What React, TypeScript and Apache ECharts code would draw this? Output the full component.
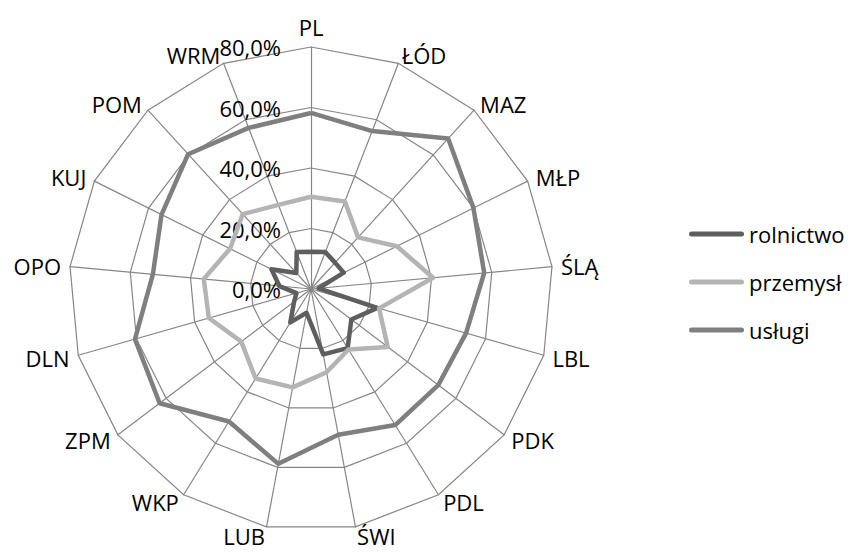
import React, { useEffect, useRef } from 'react';
import * as echarts from 'echarts';

// Categories listed clockwise from the top, as in the reference
const categories = ['PL', 'ŁÓD', 'MAZ', 'MŁP', 'ŚLĄ', 'LBL', 'PDK', 'PDL', 'ŚWI', 'LUB', 'WKP', 'ZPM', 'DLN', 'OPO', 'KUJ', 'POM', 'WRM'];
const seriesNames = ['rolnictwo', 'przemysł', 'usługi'];
const rolnictwo = [12.3, 13.1, 11.8, 12.1, 2.5, 22.8, 16.7, 23.0, 22.0, 8.0, 13.0, 7.0, 5.0, 10.5, 14.6, 7.2, 13.1];
const przemysl = [30.5, 31.0, 23.1, 31.7, 40.5, 23.4, 31.8, 23.5, 28.0, 33.1, 34.8, 28.9, 35.1, 35.6, 29.9, 33.5, 29.8];
const uslugi = [58.2, 56.0, 67.3, 60.0, 57.5, 53.3, 52.7, 52.9, 49.0, 58.8, 51.5, 62.7, 60.5, 52.5, 55.2, 60.3, 57.1];
const axisMin = 0;
const axisMax = 80;
const splitCount = 4;

const FONT = '"Open Sans", "Noto Sans", sans-serif';
const COLORS = ['#5e5e5e', '#b4b4b4', '#7f7f7f'];

export default function App() {
  const ref = useRef<HTMLDivElement>(null);
  useEffect(() => {
    const chart = echarts.init(ref.current!, null, { renderer: 'svg' });
    const n = categories.length;
    // ECharts places indicators counter-clockwise; reverse (keeping the first) to go clockwise
    const order = [0, ...Array.from({ length: n - 1 }, (_, i) => n - 1 - i)];
    const reorder = (arr: number[]) => order.map((i) => arr[i]);
    const indicator = order.map((i, k) => ({
      name: categories[i],
      min: axisMin,
      max: axisMax,
      ...(k === 0 ? { axisLabel: { show: true } } : {}),
    }));
    const all = [rolnictwo, przemysl, uslugi];
    chart.setOption({
      animation: false,
      backgroundColor: '#fff',
      legend: {
        orient: 'vertical',
        left: 684,
        top: 217,
        itemWidth: 55,
        itemHeight: 5,
        itemGap: 24,
        icon: 'path://M2.5,0 L52.5,0 A2.5,2.5 0 0 1 52.5,5 L2.5,5 A2.5,2.5 0 0 1 2.5,0 Z',
        textStyle: { color: '#000', fontSize: 22, fontFamily: FONT, lineHeight: 24 },
        data: seriesNames,
      },
      radar: {
        center: [311, 289],
        radius: 242,
        startAngle: 90,
        splitNumber: splitCount,
        shape: 'polygon',
        indicator,
        nameGap: 9,
        axisName: { color: '#000', fontSize: 22, fontFamily: FONT, lineHeight: 22 },
        splitLine: { lineStyle: { color: '#868686', width: 1.2 } },
        splitArea: { show: false },
        axisLine: { lineStyle: { color: '#868686', width: 1.2 } },
        axisTick: { show: false },
        axisLabel: {
          show: false,
          margin: 30,
          color: '#000',
          fontSize: 22,
          fontFamily: FONT,
          lineHeight: 22,
          formatter: (v: number) => v.toFixed(1).replace('.', ',') + '%',
        },
      },
      series: seriesNames.map((name, s) => ({
        type: 'radar',
        name,
        symbol: 'none',
        lineStyle: { color: COLORS[s], width: 4.5 },
        itemStyle: { color: COLORS[s] },
        data: [{ name, value: reorder(all[s]) }],
      })),
    });
    return () => chart.dispose();
  }, []);
  return <div ref={ref} style={{ position: 'absolute', left: 0, top: 0, width: 848, height: 552 }} />;
}
